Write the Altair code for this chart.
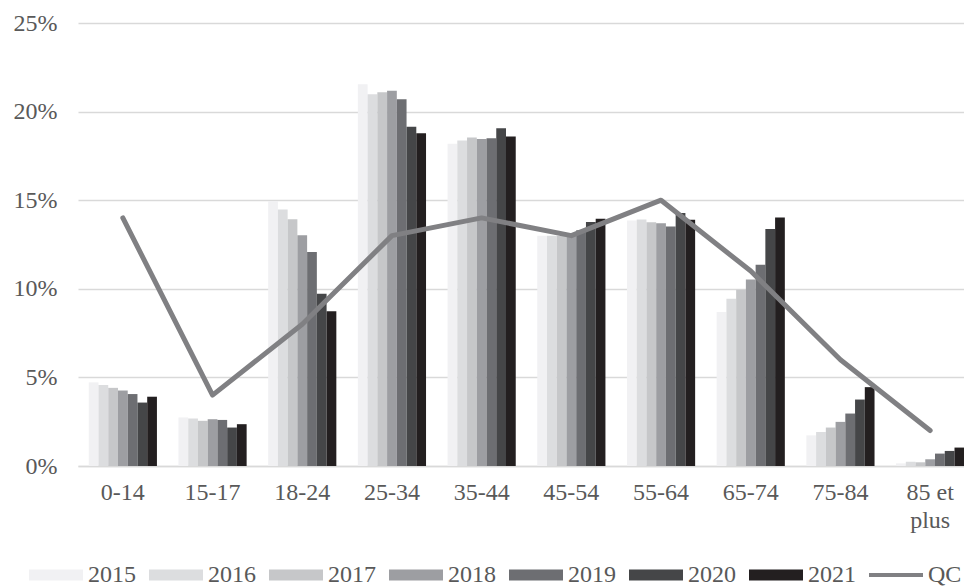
import altair as alt
import pandas as pd

categories = ["0-14", "15-17", "18-24", "25-34", "35-44", "45-54", "55-64", "65-74", "75-84", "85 et plus"]
years = ["2015", "2016", "2017", "2018", "2019", "2020", "2021"]

v2015 = [4.72, 2.74, 14.95, 21.55, 18.18, 13.0, 13.85, 8.69, 1.73, 0.15]
v2016 = [4.57, 2.68, 14.47, 20.98, 18.37, 13.0, 13.91, 9.44, 1.92, 0.24]
v2017 = [4.41, 2.55, 13.92, 21.09, 18.54, 13.0, 13.76, 9.95, 2.17, 0.21]
v2018 = [4.26, 2.64, 13.02, 21.18, 18.46, 13.0, 13.70, 10.53, 2.49, 0.38]
v2019 = [4.06, 2.60, 12.08, 20.69, 18.50, 13.3, 13.51, 11.36, 2.96, 0.70]
v2020 = [3.58, 2.17, 9.72, 19.14, 19.06, 13.77, 14.28, 13.38, 3.75, 0.85]
v2021 = [3.91, 2.36, 8.74, 18.78, 18.59, 13.95, 13.89, 14.02, 4.45, 1.04]
qc = [14, 4, 8, 13, 14, 13, 15, 11, 6, 2]

series_values = [v2015, v2016, v2017, v2018, v2019, v2020, v2021]
bar_colors = ["#f1f1f3", "#dcdddf", "#c6c7c9", "#9d9ea2", "#6d6e72", "#454648", "#231f20"]
line_color = "#808083"

rows = []
for y, vals in zip(years, series_values):
    for c, v in zip(categories, vals):
        rows.append({"cat": c, "series": y, "value": v})
bars_df = pd.DataFrame(rows)
qc_df = pd.DataFrame({"cat": categories, "series": ["QC"] * len(categories), "value": qc})

FONT = "Liberation Serif"
TXT = "#595959"
GRID = "#d9d9d9"

rect_path = "M-1,-0.2L1,-0.2L1,0.2L-1,0.2Z"
thin_path = "M-1,-0.075L1,-0.075L1,0.075L-1,0.075Z"

color_scale = alt.Scale(domain=years + ["QC"], range=bar_colors + [line_color])

legend = alt.Legend(
    title=None,
    orient="none",
    legendX=-49,
    legendY=525,
    direction="horizontal",
    columns=8,
    symbolType=alt.ExprRef(expr=f"datum.value == 'QC' ? '{thin_path}' : '{rect_path}'"),
    symbolSize=2916,
    symbolStrokeWidth=0,
    symbolOpacity=1,
    labelFont=FONT,
    labelFontSize=24,
    labelColor=TXT,
    labelOffset=5,
    columnPadding=13,
    padding=0,
)

x_enc = alt.X(
    "cat:N",
    sort=categories,
    title=None,
    scale=alt.Scale(paddingInner=0.24, paddingOuter=0.12, range=[0, 897]),
    axis=alt.Axis(
        labelAngle=0,
        labelFont=FONT,
        labelFontSize=24,
        labelColor=TXT,
        labelPadding=14,
        ticks=False,
        domain=True,
        domainColor=GRID,
        domainWidth=1.5,
        labelExpr="datum.label == '85 et plus' ? ['85 et', 'plus'] : datum.label",
        labelLineHeight=28,
    ),
)

y_enc = alt.Y(
    "value:Q",
    title=None,
    scale=alt.Scale(domain=[0, 25], nice=False),
    axis=alt.Axis(
        values=[0, 5, 10, 15, 20, 25],
        labelExpr="datum.value + '%'",
        labelFont=FONT,
        labelFontSize=24,
        labelColor=TXT,
        labelPadding=21,
        ticks=False,
        domain=False,
        grid=True,
        gridColor=GRID,
        gridWidth=1.5,
    ),
)

bars = alt.Chart(bars_df).mark_bar().encode(
    x=x_enc,
    xOffset=alt.XOffset("series:N", sort=years, scale=alt.Scale(paddingInner=0, paddingOuter=0)),
    y=y_enc,
    color=alt.Color("series:N", scale=color_scale, legend=legend),
)

line = alt.Chart(qc_df).mark_line(strokeWidth=5, strokeCap="round", strokeJoin="round").encode(
    x=alt.X("cat:N", sort=categories),
    y=alt.Y("value:Q"),
    color=alt.Color("series:N", scale=color_scale, legend=legend),
)

chart = (
    alt.layer(bars, line)
    .properties(
        width=886,
        height=443,
        autosize=alt.AutoSizeParams(type="none"),
        padding={"left": 70, "top": 15, "right": 0, "bottom": 120},
        background="white",
    )
    .configure_view(stroke=None)
)

chart.save("out.html", embed_options={"renderer": "svg", "actions": False})
